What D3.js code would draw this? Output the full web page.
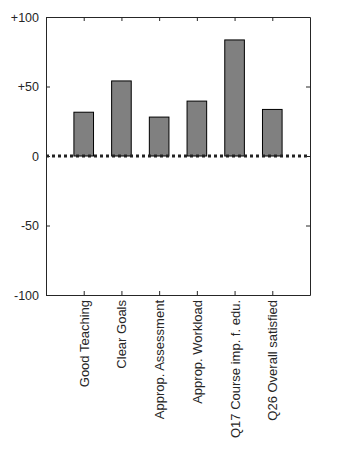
<!DOCTYPE html>
<html>
<head>
<meta charset="utf-8">
<script src="https://cdn.jsdelivr.net/npm/d3@7"></script>
<style>
  body { margin: 0; background: #fff; }
  svg { display: block; }
</style>
</head>
<body>
<div id="chart"></div>
<script>
const categories = ["Good Teaching", "Clear Goals", "Approp. Assessment", "Approp. Workload", "Q17 Course imp. f. edu.", "Q26 Overall satisfied"]
const values = [31.5, 54, 28, 39.5, 83.5, 33.5]
const yTicks = [-100, -50, 0, 50, 100]
const yTickLabels = ["-100", "-50", "0", "+50", "+100"]

const width = 354, height = 472
const margin = { top: 17, right: 44, bottom: 177, left: 46 }
const axisColor = "#262626"

const svg = d3.select("#chart").append("svg")
    .attr("width", width)
    .attr("height", height)
    .style("font-family", "'Liberation Sans', Arial, sans-serif")

// posiciones 1..n dentro de 0..n+1
const x = d3.scaleLinear()
    .domain([0, categories.length + 1])
    .range([margin.left, width - margin.right])

const y = d3.scaleLinear()
    .domain([-100, 100])
    .range([height - margin.bottom, margin.top])

const step = x(1) - x(0)
const barW = step * 0.52

// barras
svg.append("g")
    .selectAll("rect")
    .data(values)
    .join("rect")
    .attr("x", (d, i) => x(i + 1) - barW / 2)
    .attr("y", d => y(d))
    .attr("width", barW)
    .attr("height", d => y(0) - y(d))
    .attr("fill", "#808080")
    .attr("stroke", "#000")
    .attr("stroke-width", 1)

// linea de cero punteada
svg.append("line")
    .attr("x1", x(0))
    .attr("x2", x(categories.length + 1))
    .attr("y1", y(0))
    .attr("y2", y(0))
    .attr("stroke", "#222")
    .attr("stroke-width", 3)
    .attr("stroke-dasharray", "3,3")

// ejes
const tickPos = categories.map((c, i) => i + 1)

const xBottom = svg.append("g")
    .attr("transform", `translate(0,${y(-100)})`)
    .call(d3.axisBottom(x).tickValues(tickPos).tickSize(-4).tickSizeOuter(0).tickFormat((d, i) => categories[i]))
xBottom.selectAll("text")
    .attr("transform", "rotate(-90)")
    .attr("text-anchor", "end")
    .attr("x", -5)
    .attr("y", 0)
    .attr("dy", "0.35em")
    .attr("font-size", 13)

svg.append("g")
    .attr("transform", `translate(0,${y(100)})`)
    .call(d3.axisTop(x).tickValues(tickPos).tickSize(-4).tickSizeOuter(0).tickFormat(""))

svg.append("g")
    .attr("transform", `translate(${x(0)},0)`)
    .call(d3.axisLeft(y).tickValues(yTicks).tickSize(-4).tickSizeOuter(0).tickPadding(7).tickFormat((d, i) => yTickLabels[i]))
    .selectAll("text")
    .attr("font-size", 12.5)

svg.append("g")
    .attr("transform", `translate(${x(categories.length + 1)},0)`)
    .call(d3.axisRight(y).tickValues(yTicks).tickSize(-4).tickSizeOuter(0).tickFormat(""))

svg.selectAll(".domain, .tick line")
    .attr("stroke", axisColor)
svg.selectAll(".tick text")
    .attr("fill", axisColor)
</script>
</body>
</html>
